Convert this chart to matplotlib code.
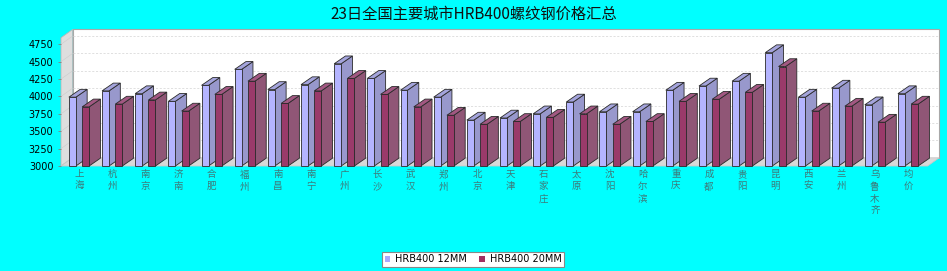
import matplotlib
matplotlib.use("Agg")
import matplotlib.pyplot as plt
from matplotlib.patches import Polygon, Patch, Rectangle

cities = ["上海", "杭州", "南京", "济南", "合肥", "福州", "南昌", "南宁", "广州", "长沙",
          "武汉", "郑州", "北京", "天津", "石家庄", "太原", "沈阳", "哈尔滨", "重庆", "成都",
          "贵阳", "昆明", "西安", "兰州", "乌鲁木齐", "均价"]
hrb12 = [3990, 4080, 4040, 3930, 4160, 4390, 4100, 4170, 4470, 4260,
         4090, 3990, 3660, 3690, 3750, 3920, 3780, 3780, 4090, 4150,
         4220, 4630, 3990, 4120, 3880, 4040]
hrb20 = [3850, 3890, 3950, 3790, 4030, 4220, 3900, 4080, 4260, 4030,
         3850, 3730, 3600, 3640, 3700, 3750, 3600, 3640, 3930, 3960,
         4060, 4430, 3790, 3860, 3630, 3890]
series_names = ["HRB400 12MM", "HRB400 20MM"]
yticks = [3000, 3250, 3500, 3750, 4000, 4250, 4500, 4750]
title = "23日全国主要城市HRB400螺纹钢价格汇总"

W, H = 947, 271
fig = plt.figure(figsize=(W / 100, H / 100), dpi=100, facecolor="#00ffff")

# front plot area in pixels
left_px, right_px, top_px, bot_px = 61.0, 927.6, 37.7, 166.0
ax = fig.add_axes([left_px / W, 1 - bot_px / H, (right_px - left_px) / W, (bot_px - top_px) / H])
ax.set_facecolor("none")
x0, x1 = -0.543, 25.59
y0, y1 = 3000, 4845
ax.set_xlim(x0, x1)
ax.set_ylim(y0, y1)
for s in ax.spines.values():
    s.set_visible(False)

# 3D offset in data units
px_x = (right_px - left_px) / (x1 - x0)
px_y = (bot_px - top_px) / (y1 - y0)
dxw = 11.5 / px_x   # wall depth
dyw = 8.2 / px_y
dx = 11.3 / px_x    # bar depth
dy = 7.8 / px_y

# walls
ax.add_patch(Polygon([(x0 + dxw, y0 + dyw), (x1 + dxw, y0 + dyw), (x1 + dxw, y1 + dyw), (x0 + dxw, y1 + dyw)],
                     closed=True, facecolor="white", edgecolor="#a8a8a8", lw=0.8, clip_on=False, zorder=0))
ax.add_patch(Polygon([(x0, y0), (x0, y1), (x0 + dxw, y1 + dyw), (x0 + dxw, y0 + dyw)],
                     closed=True, facecolor="#dedede", edgecolor="#b8b8b8", lw=0.6, clip_on=False, zorder=0.5))
ax.add_patch(Polygon([(x0, y0), (x1, y0), (x1 + dxw, y0 + dyw), (x0 + dxw, y0 + dyw)],
                     closed=True, facecolor="#d8d8d8", edgecolor="#c8c8c8", lw=0.6, clip_on=False, zorder=0.5))
for t in yticks[1:]:
    ax.plot([x0 + dxw, x1 + dxw], [t + dyw, t + dyw], color="#dadada", lw=0.6,
            linestyle=(0, (2.5, 2)), clip_on=False, zorder=0.6)
    ax.plot([x0, x0 + dxw], [t, t + dyw], color="#cccccc", lw=0.4, clip_on=False, zorder=0.6)

colors = [
    dict(front="#b4b4ff", side="#9898cc", top="#a4a4dc"),
    dict(front="#9a3a6a", side="#905676", top="#a25882"),
]
offsets = [-0.305, 0.095]
bw = 0.21
edge = "#2a2a2a"
z = 2
for i in range(len(cities)):
    for k, vals in enumerate([hrb12, hrb20]):
        v = vals[i]
        c = colors[k]
        xl = i + offsets[k]
        xr = xl + bw
        side = [(xr, y0), (xr, v), (xr + dx, v + dy), (xr + dx, y0 + dy)]
        topf = [(xl, v), (xr, v), (xr + dx, v + dy), (xl + dx, v + dy)]
        ax.add_patch(Polygon(side, closed=True, facecolor=c["side"], edgecolor=edge, lw=0.6, zorder=z, clip_on=False))
        ax.add_patch(Polygon(topf, closed=True, facecolor=c["top"], edgecolor=edge, lw=0.6, zorder=z, clip_on=False))
        ax.add_patch(Rectangle((xl, y0), bw, v - y0, facecolor=c["front"], edgecolor=edge, lw=0.6, zorder=z, clip_on=False))
        z += 0.01

ax.set_yticks(yticks)
ax.set_yticklabels([str(t) for t in yticks], fontsize=7, family="DejaVu Sans", color="black")
ax.tick_params(axis="y", length=2.5, width=0.6, color="#808080", pad=3)
ax.set_xticks(range(len(cities)))
ax.set_xticklabels(["\n".join(c) for c in cities], fontsize=6.8, color="#3d7a7a",
                   family=["Noto Sans CJK SC", "DejaVu Sans"], linespacing=1.4, va="top")
ax.tick_params(axis="x", length=0, pad=3)

fig.text(474 / W, 1 - 14 / H, title, ha="center", va="center", fontsize=11,
         family=["Noto Sans CJK SC", "DejaVu Sans"], color="#111111")

handles = [Patch(facecolor="#aaaaff", edgecolor="none"), Patch(facecolor="#a03060", edgecolor="none")]
leg = fig.legend(handles, series_names, loc="center", bbox_to_anchor=(473 / W, 1 - 259.5 / H),
                 ncol=2, fontsize=7, frameon=True, fancybox=False, edgecolor="#888888",
                 facecolor="white", framealpha=1, handlelength=0.6, handleheight=0.6,
                 handletextpad=0.5, columnspacing=1.2, borderpad=0.3, borderaxespad=0)
leg.get_frame().set_linewidth(0.8)

fig.savefig("out.png", dpi=100, facecolor=fig.get_facecolor())
